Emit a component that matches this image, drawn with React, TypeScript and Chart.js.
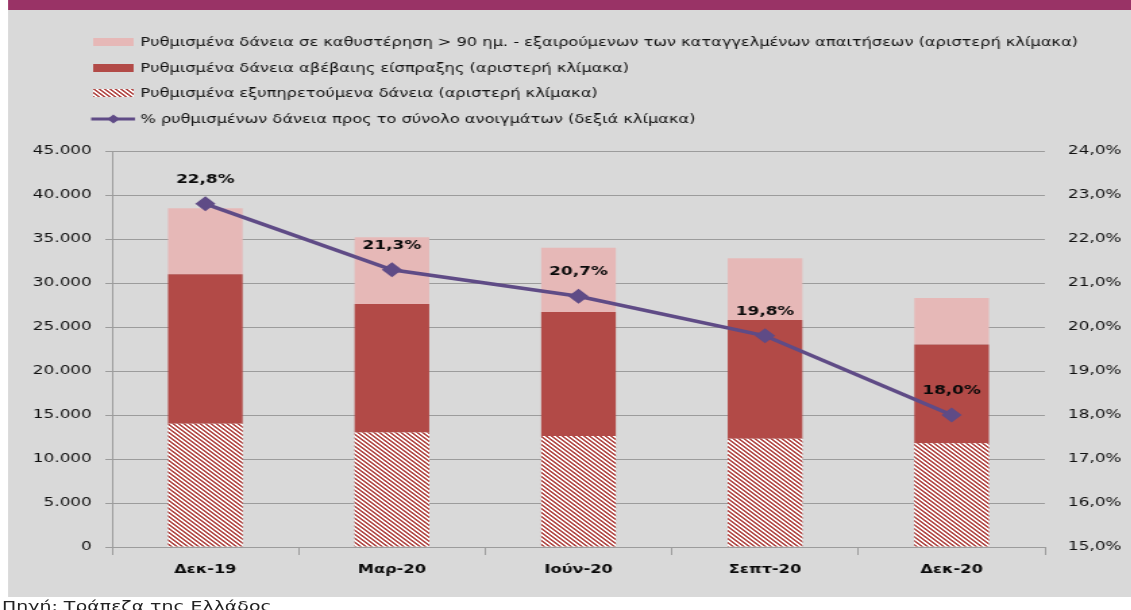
import React, { useEffect, useRef } from "react";
import { Chart, registerables } from "chart.js";

Chart.register(...registerables);

// ---- data ----
const categories = ["Δεκ-19", "Μαρ-20", "Ιούν-20", "Σεπτ-20", "Δεκ-20"];
const performingLoans = [14000, 13000, 12600, 12300, 11800];
const doubtfulLoans = [17000, 14600, 14100, 13500, 11200];
const pastDueLoans = [7500, 7600, 7300, 7000, 5300];
const restructuredShare = [22.8, 21.3, 20.7, 19.8, 18.0];

const legendLabels = [
  "Ρυθμισμένα δάνεια σε καθυστέρηση > 90 ημ. - εξαιρούμενων των καταγγελμένων απαιτήσεων (αριστερή κλίμακα)",
  "Ρυθμισμένα δάνεια αβέβαιης είσπραξης (αριστερή κλίμακα)",
  "Ρυθμισμένα εξυπηρετούμενα δάνεια (αριστερή κλίμακα)",
  "% ρυθμισμένων δάνεια προς το σύνολο ανοιγμάτων (δεξιά κλίμακα)",
];
const sourceText = "Πηγή: Τράπεζα της Ελλάδος";

const S = 1.35; // horizontal stretch of the picture
const W = Math.round(1131 / S);
const H = 597;
const FONT = "'DejaVu Sans', Verdana, sans-serif";

const PINK = "#E6B8B7";
const RED = "#B24A47";
const LINE = "#5F4B86";
const GRID = "#9C9C9C";

function fmtThousands(v: number) {
  return String(v).replace(/\B(?=(\d{3})+(?!\d))/g, ".");
}
function fmtPct(v: number) {
  return v.toFixed(1).replace(".", ",") + "%";
}

function makeHatch(): CanvasPattern | string {
  const c = document.createElement("canvas");
  c.width = 4;
  c.height = 4;
  const g = c.getContext("2d");
  if (!g) return RED;
  g.fillStyle = "#FFFFFF";
  g.fillRect(0, 0, 4, 4);
  g.fillStyle = RED;
  for (let y = 0; y < 4; y++) {
    for (let x = 0; x < 4; x++) {
      const d = (((x - y) % 4) + 4) % 4;
      if (d === 0 || d === 1) g.fillRect(x, y, 1, 1);
    }
  }
  return g.createPattern(c, "repeat") || RED;
}

export default function App() {
  const ref = useRef<HTMLCanvasElement | null>(null);

  useEffect(() => {
    const canvas = ref.current;
    if (!canvas) return;
    const hatch = makeHatch();

    const legendPlugin = {
      id: "customLegend",
      afterDraw(chart: any) {
        const ctx = chart.ctx;
        ctx.save();
        const rows = [42, 68, 93, 119];
        const boxX = 69;
        const boxW = 30;
        const boxH = 8;
        const fills = [PINK, RED, hatch];
        for (let i = 0; i < 3; i++) {
          ctx.fillStyle = fills[i] as any;
          ctx.fillRect(boxX, rows[i] - boxH / 2, boxW, boxH);
        }
        // line icon
        ctx.strokeStyle = LINE;
        ctx.lineWidth = 3;
        ctx.beginPath();
        ctx.moveTo(67.5, rows[3]);
        ctx.lineTo(100, rows[3]);
        ctx.stroke();
        ctx.fillStyle = LINE;
        const cx = 84;
        const r = 4.5;
        ctx.beginPath();
        ctx.moveTo(cx, rows[3] - r);
        ctx.lineTo(cx + r, rows[3]);
        ctx.lineTo(cx, rows[3] + r);
        ctx.lineTo(cx - r, rows[3]);
        ctx.closePath();
        ctx.fill();

        ctx.fillStyle = "#111111";
        ctx.font = `12px ${FONT}`;
        ctx.textAlign = "left";
        ctx.textBaseline = "middle";
        legendLabels.forEach((t, i) => ctx.fillText(t, 104, rows[i] + 0.5));
        ctx.restore();
      },
    };

    const labelPlugin = {
      id: "pointLabels",
      afterDatasetsDraw(chart: any) {
        const ctx = chart.ctx;
        const meta = chart.getDatasetMeta(3);
        ctx.save();
        ctx.fillStyle = "#0A0A0A";
        ctx.font = `bold 12.5px ${FONT}`;
        ctx.textAlign = "center";
        ctx.textBaseline = "middle";
        meta.data.forEach((pt: any, i: number) => {
          ctx.fillText(fmtPct(restructuredShare[i]), pt.x, pt.y - 24);
        });
        ctx.restore();
      },
    };

    const chart = new Chart(canvas, {
      type: "bar",
      data: {
        labels: categories,
        datasets: [
          {
            type: "bar",
            label: legendLabels[2],
            data: performingLoans,
            backgroundColor: hatch as any,
            borderWidth: 0,
            yAxisID: "y",
            order: 1,
            barPercentage: 0.4,
            categoryPercentage: 1,
          },
          {
            type: "bar",
            label: legendLabels[1],
            data: doubtfulLoans,
            backgroundColor: RED,
            borderWidth: 0,
            yAxisID: "y",
            order: 1,
            barPercentage: 0.4,
            categoryPercentage: 1,
          },
          {
            type: "bar",
            label: legendLabels[0],
            data: pastDueLoans,
            backgroundColor: PINK,
            borderWidth: 0,
            yAxisID: "y",
            order: 1,
            barPercentage: 0.4,
            categoryPercentage: 1,
          },
          {
            type: "line",
            label: legendLabels[3],
            data: restructuredShare,
            borderColor: LINE,
            backgroundColor: LINE,
            borderWidth: 3.5,
            pointStyle: "rectRot",
            pointRadius: 7.5,
            pointBackgroundColor: LINE,
            pointBorderColor: LINE,
            pointBorderWidth: 0,
            tension: 0,
            yAxisID: "y1",
            order: 0,
          } as any,
        ],
      },
      options: {
        responsive: false,
        animation: false,
        devicePixelRatio: 1,
        layout: { padding: { top: 151, left: 0, right: 0, bottom: 0 } },
        plugins: {
          legend: { display: false },
          tooltip: { enabled: false },
          title: { display: false },
        },
        scales: {
          x: {
            stacked: true,
            grid: {
              display: true,
              drawOnChartArea: false,
              drawTicks: true,
              tickLength: 8,
              color: GRID,
              offset: true,
            },
            border: { display: true, color: GRID, width: 1 },
            ticks: {
              color: "#0A0A0A",
              font: { family: FONT, size: 12, weight: "bold" },
              padding: 8,
              maxRotation: 0,
            },
            afterFit: (s: any) => {
              s.height = 50;
            },
          },
          y: {
            stacked: true,
            position: "left",
            min: 0,
            max: 45000,
            ticks: {
              stepSize: 5000,
              color: "#111111",
              font: { family: FONT, size: 12.5 },
              padding: 10,
              callback: (v: any) => fmtThousands(Number(v)),
            },
            grid: { color: GRID, tickLength: 5, lineWidth: 1 },
            border: { display: true, color: GRID, width: 1 },
            afterFit: (s: any) => {
              s.width = 83;
            },
          },
          y1: {
            position: "right",
            min: 15,
            max: 24,
            ticks: {
              stepSize: 1,
              color: "#111111",
              font: { family: FONT, size: 12.5 },
              padding: 17,
              callback: (v: any) => fmtPct(Number(v)),
            },
            grid: { display: false, drawOnChartArea: false, drawTicks: false },
            border: { display: false },
            afterFit: (s: any) => {
              s.width = W - 774;
            },
          },
        },
      } as any,
      plugins: [legendPlugin, labelPlugin],
    });

    return () => chart.destroy();
  }, []);

  return (
    <div
      style={{
        position: "absolute",
        left: 0,
        top: 0,
        width: 1131,
        height: 610,
        overflow: "hidden",
        background: "#FFFFFF",
      }}
    >
      <div
        style={{
          position: "absolute",
          left: 0,
          top: 0,
          width: W,
          height: 610,
          transform: `scaleX(${S})`,
          transformOrigin: "0 0",
        }}
      >
        <div
          style={{
            position: "absolute",
            left: 8 / S,
            top: 0,
            width: W - 8 / S,
            height: 10,
            background: "#993366",
          }}
        />
        <div
          style={{
            position: "absolute",
            left: 8 / S,
            top: 10,
            width: W - 8 / S,
            height: H - 10,
            background: "#D9D9D9",
          }}
        />
        <canvas
          ref={ref}
          width={W}
          height={H}
          style={{ position: "absolute", left: 0, top: 0 }}
        />
        <div
          style={{
            position: "absolute",
            left: 1.5,
            top: 598,
            fontFamily: FONT,
            fontSize: 14,
            lineHeight: "16px",
            color: "#222222",
            whiteSpace: "nowrap",
          }}
        >
          {sourceText}
        </div>
      </div>
    </div>
  );
}
